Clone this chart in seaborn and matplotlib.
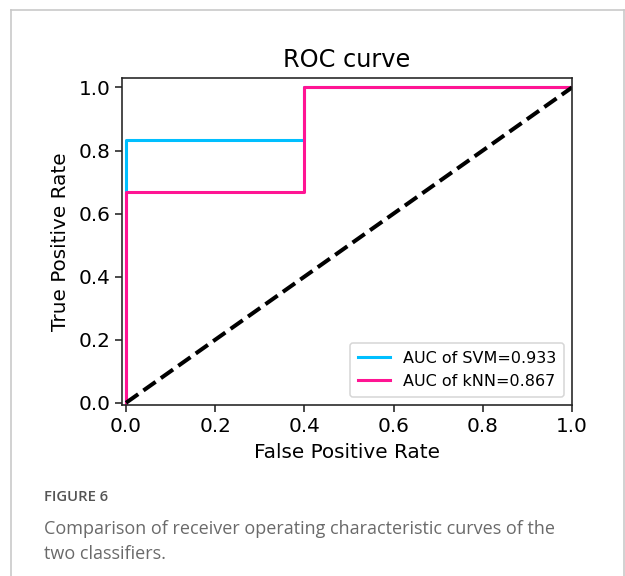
import matplotlib
matplotlib.use("Agg")
import matplotlib.pyplot as plt
from matplotlib.lines import Line2D
import seaborn as sns
import pandas as pd

# ROC data (step points)
fpr_svm = [0.0, 0.0, 0.4, 0.4, 1.0]
tpr_svm = [0.0, 0.833, 0.833, 1.0, 1.0]
fpr_knn = [0.0, 0.0, 0.4, 0.4, 1.0]
tpr_knn = [0.0, 0.667, 0.667, 1.0, 1.0]
diag_x = [0.0, 1.0]
diag_y = [0.0, 1.0]
labels = ["AUC of SVM=0.933", "AUC of kNN=0.867"]
ticks = [0.0, 0.2, 0.4, 0.6, 0.8, 1.0]

fig = plt.figure(figsize=(6.25, 5.76), dpi=100)
fig.patch.set_facecolor("white")

# outer frame (top, left, right)
border = "#c9c9c9"
fig.add_artist(Line2D([11/625, 624/625], [1-10/576, 1-10/576], transform=fig.transFigure, color=border, lw=1.2))
fig.add_artist(Line2D([11/625, 11/625], [0, 1-10/576], transform=fig.transFigure, color=border, lw=1.2))
fig.add_artist(Line2D([624/625, 624/625], [0, 1-10/576], transform=fig.transFigure, color=border, lw=1.2))

ax = fig.add_axes([122/625, (576-405)/576, 450/625, (405-78)/576])

df_svm = pd.DataFrame({"fpr": fpr_svm, "tpr": tpr_svm})
df_knn = pd.DataFrame({"fpr": fpr_knn, "tpr": tpr_knn})
sns.lineplot(data=df_svm, x="fpr", y="tpr", sort=False, estimator=None,
             color="#00BFFF", lw=2.2, label=labels[0], ax=ax)
sns.lineplot(data=df_knn, x="fpr", y="tpr", sort=False, estimator=None,
             color="#FF1493", lw=2.2, label=labels[1], ax=ax)
sns.lineplot(x=diag_x, y=diag_y, color="black", lw=2.9, linestyle="--", ax=ax)

ax.set_xlim(-0.009, 1.0)
ax.set_ylim(-0.007, 1.03)
ax.set_xticks(ticks)
ax.set_yticks(ticks)
ax.set_xticklabels([f"{t:.1f}" for t in ticks])
ax.set_yticklabels([f"{t:.1f}" for t in ticks])
ax.tick_params(labelsize=14.4, width=1.15, length=5, color="#222222")
for s in ax.spines.values():
    s.set_linewidth(1.15)
    s.set_color("#222222")
ax.set_xlabel("False Positive Rate", fontsize=14.4, labelpad=5)
ax.set_ylabel("True Positive Rate", fontsize=14.4, labelpad=6)
ax.set_title("ROC curve", fontsize=17.3, pad=8)

leg = ax.legend(loc="lower right", fontsize=11.5, frameon=True, handlelength=2.0,
                borderpad=0.5, labelspacing=0.5)
leg.get_frame().set_edgecolor("#cccccc")
leg.get_frame().set_linewidth(1.1)

fig.text(44/625, 1-497/576, "FIGURE 6", fontsize=10.7, color="#555555",
         family="Open Sans", weight="semibold", va="center")
fig.text(44/625, 1-529/576, "Comparison of receiver operating characteristic curves of the",
         fontsize=13, color="#6a6a6a", family="Open Sans", va="center")
fig.text(44/625, 1-554/576, "two classifiers.",
         fontsize=13, color="#6a6a6a", family="Open Sans", va="center")

fig.savefig("out.png", dpi=100)
